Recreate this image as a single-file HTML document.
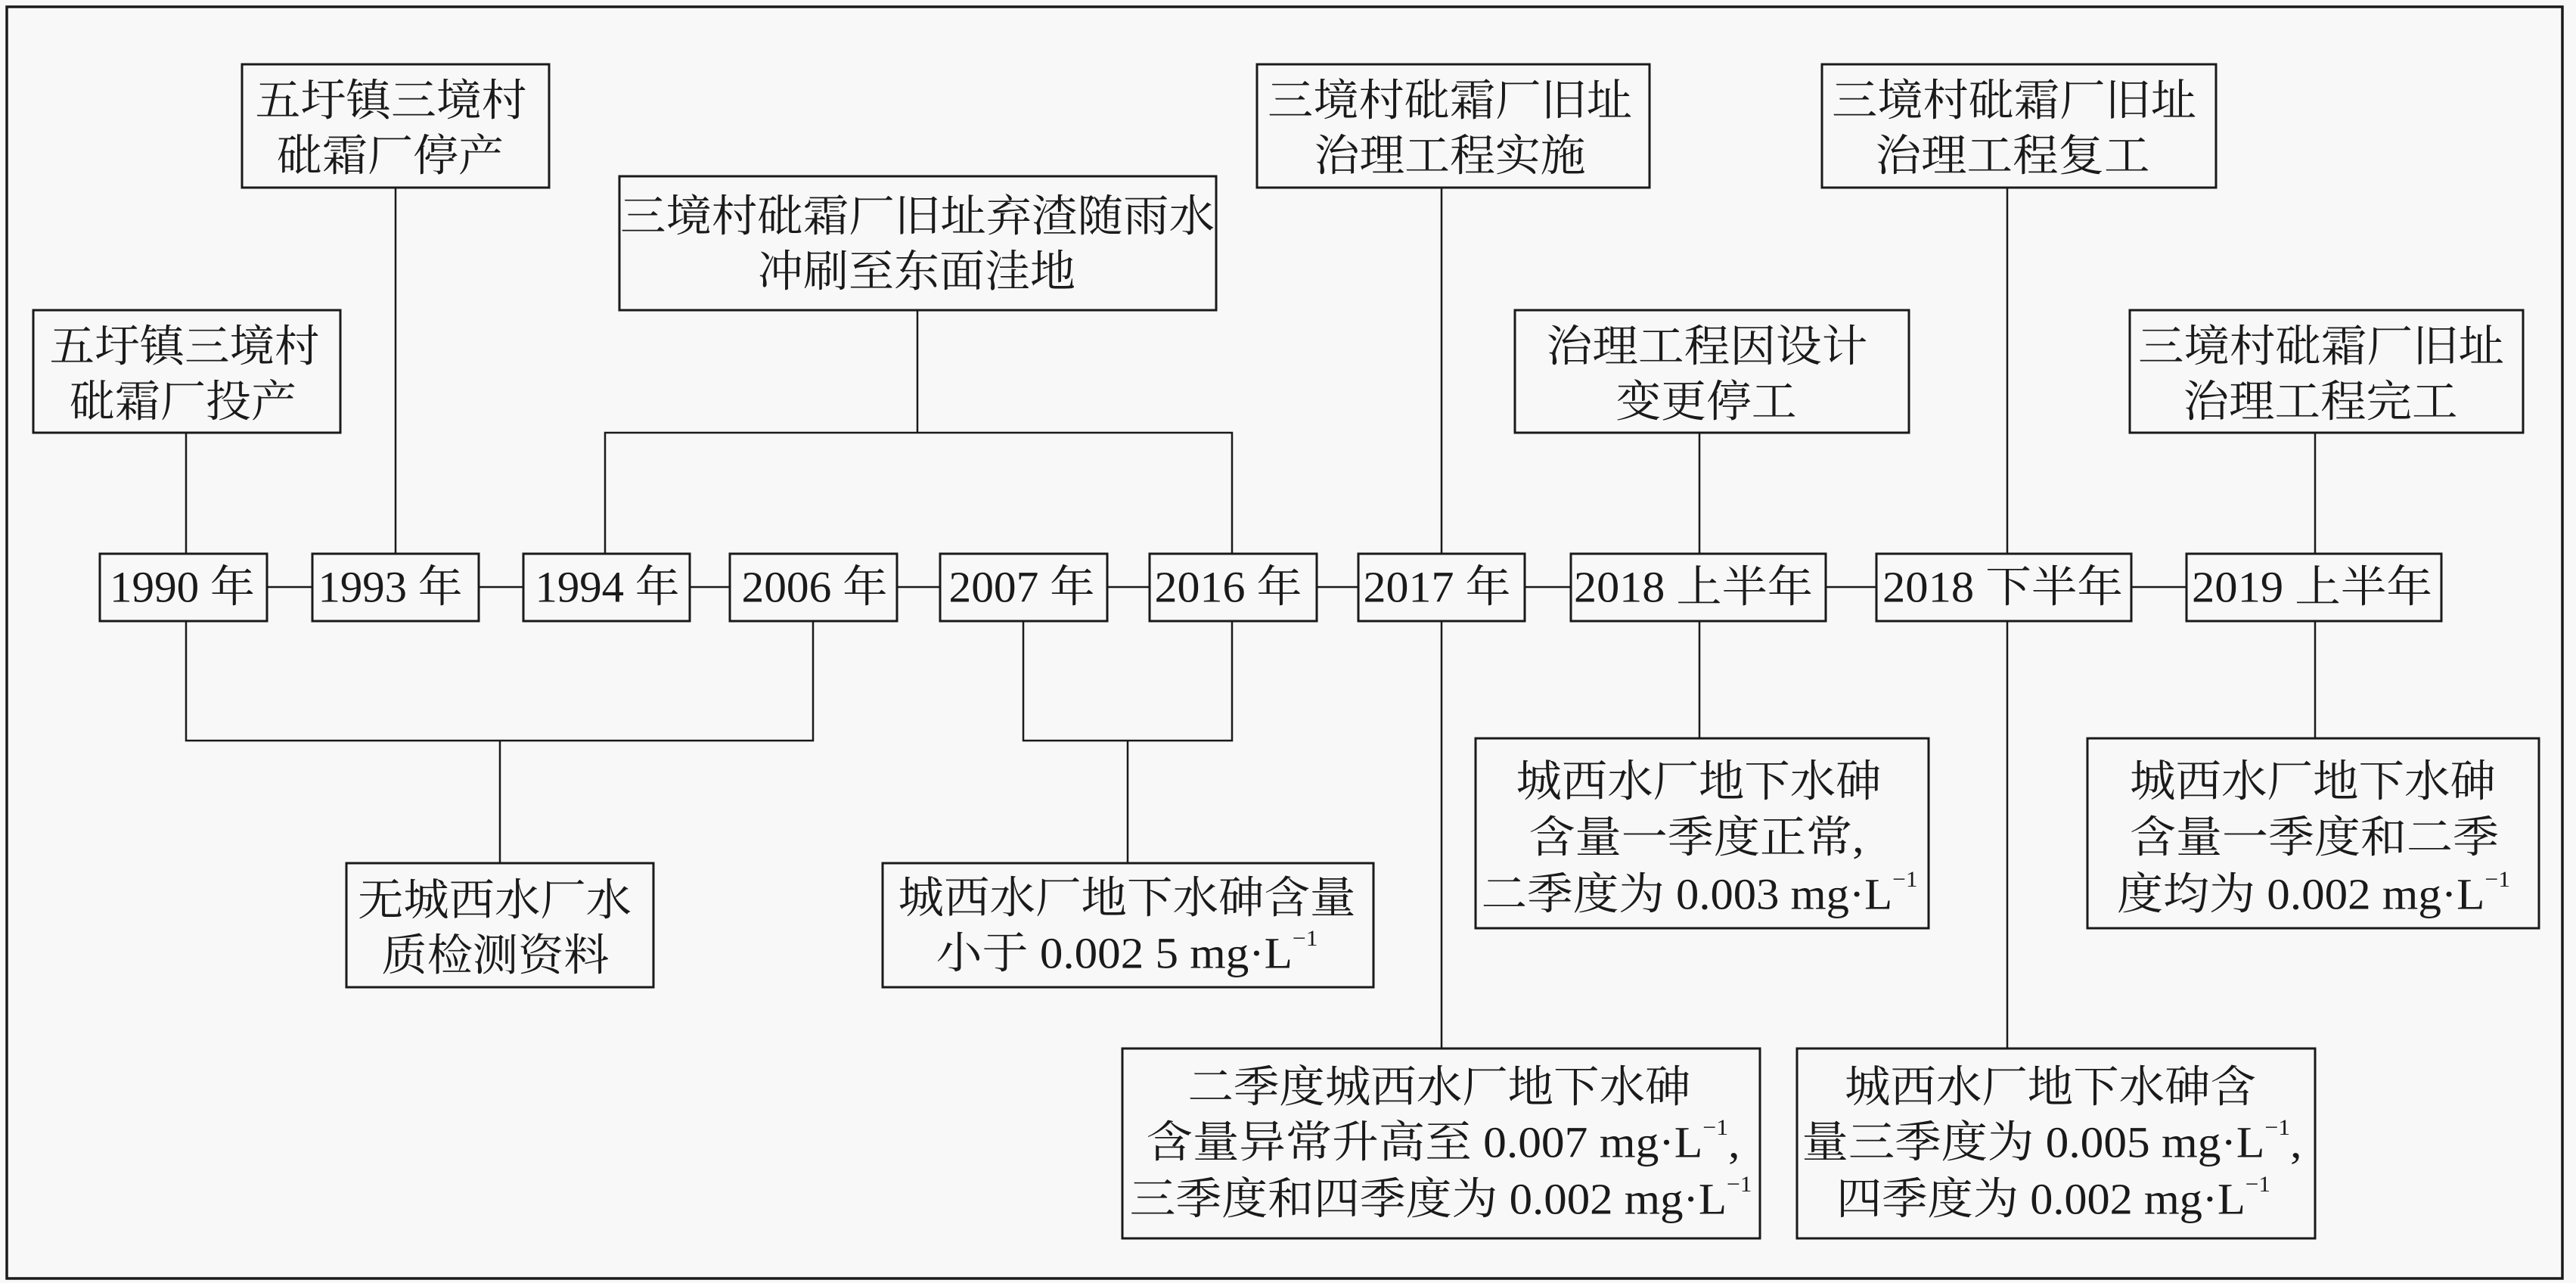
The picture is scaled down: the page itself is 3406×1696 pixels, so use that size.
<!DOCTYPE html>
<html><head><meta charset="utf-8"><style>
html,body{margin:0;padding:0;background:#f8f8f8;}
svg{display:block;}
text{font-family:"Liberation Serif","Noto Serif CJK SC",serif;font-size:58px;fill:#1a1a1a;dominant-baseline:central;text-anchor:middle;}
.b{fill:#f8f8f8;stroke:#1a1a1a;stroke-width:3;}
.l{stroke:#1a1a1a;stroke-width:2.5;fill:none;}
.s{font-size:30px;}
</style></head><body>
<svg width="3406" height="1696" viewBox="0 0 3406 1696" xmlns="http://www.w3.org/2000/svg">
<rect x="0" y="0" width="3406" height="1696" fill="#f8f8f8"/>
<rect x="9" y="9" width="3379" height="1681" fill="none" stroke="#1a1a1a" stroke-width="3.5"/>

<g class="l">
<path d="M246 572V732"/>
<path d="M523 248V732"/>
<path d="M1213 410V572M800 732V572H1629V732"/>
<path d="M1906 248V732M1906 821V1386"/>
<path d="M2247 572V732M2247 821V976"/>
<path d="M2654 248V732M2654 821V1386"/>
<path d="M3061 572V732M3061 821V976"/>
<path d="M246 821V979H1075V821M661 979V1141"/>
<path d="M1353 821V979H1629V821M1491 979V1141"/>
<path d="M353 776H413M633 776H692M912 776H965M1186 776H1243M1464 776H1520M1741 776H1796M2016 776H2077M2414 776H2481M2818 776H2891"/>
</g>

<rect class="b" x="44" y="410" width="406" height="162"/>
<text x="244" y="458" textLength="357" lengthAdjust="spacingAndGlyphs">五圩镇三境村</text>
<text x="242" y="531" textLength="300" lengthAdjust="spacingAndGlyphs">砒霜厂投产</text>

<rect class="b" x="320" y="85" width="406" height="163"/>
<text x="517" y="133" textLength="359" lengthAdjust="spacingAndGlyphs">五圩镇三境村</text>
<text x="516" y="206" textLength="300" lengthAdjust="spacingAndGlyphs">砒霜厂停产</text>

<rect class="b" x="819" y="233" width="789" height="177"/>
<text x="1213" y="286" textLength="786" lengthAdjust="spacingAndGlyphs">三境村砒霜厂旧址弃渣随雨水</text>
<text x="1212" y="359" textLength="420" lengthAdjust="spacingAndGlyphs">冲刷至东面洼地</text>

<rect class="b" x="1662" y="85" width="519" height="163"/>
<text x="1917" y="133" textLength="482" lengthAdjust="spacingAndGlyphs">三境村砒霜厂旧址</text>
<text x="1917" y="206" textLength="359" lengthAdjust="spacingAndGlyphs">治理工程实施</text>

<rect class="b" x="2003" y="410" width="521" height="162"/>
<text x="2257" y="458" textLength="425" lengthAdjust="spacingAndGlyphs">治理工程因设计</text>
<text x="2256" y="531" textLength="239" lengthAdjust="spacingAndGlyphs">变更停工</text>

<rect class="b" x="2409" y="85" width="521" height="163"/>
<text x="2663" y="133" textLength="482" lengthAdjust="spacingAndGlyphs">三境村砒霜厂旧址</text>
<text x="2661" y="206" textLength="363" lengthAdjust="spacingAndGlyphs">治理工程复工</text>

<rect class="b" x="2816" y="410" width="520" height="162"/>
<text x="3069" y="458" textLength="484" lengthAdjust="spacingAndGlyphs">三境村砒霜厂旧址</text>
<text x="3068" y="531" textLength="363" lengthAdjust="spacingAndGlyphs">治理工程完工</text>

<rect class="b" x="132" y="732" width="221" height="89"/>
<text x="241" y="776" textLength="192" lengthAdjust="spacingAndGlyphs">1990 年</text>
<rect class="b" x="413" y="732" width="220" height="89"/>
<text x="516" y="776" textLength="191" lengthAdjust="spacingAndGlyphs">1993 年</text>
<rect class="b" x="692" y="732" width="220" height="89"/>
<text x="803" y="776" textLength="191" lengthAdjust="spacingAndGlyphs">1994 年</text>
<rect class="b" x="965" y="732" width="221" height="89"/>
<text x="1077" y="776" textLength="193" lengthAdjust="spacingAndGlyphs">2006 年</text>
<rect class="b" x="1243" y="732" width="221" height="89"/>
<text x="1351" y="776" textLength="193" lengthAdjust="spacingAndGlyphs">2007 年</text>
<rect class="b" x="1520" y="732" width="221" height="89"/>
<text x="1624" y="776" textLength="195" lengthAdjust="spacingAndGlyphs">2016 年</text>
<rect class="b" x="1796" y="732" width="220" height="89"/>
<text x="1900" y="776" textLength="195" lengthAdjust="spacingAndGlyphs">2017 年</text>
<rect class="b" x="2077" y="732" width="337" height="89"/>
<text x="2239" y="776" textLength="316" lengthAdjust="spacingAndGlyphs">2018 上半年</text>
<rect class="b" x="2481" y="732" width="337" height="89"/>
<text x="2648" y="776" textLength="318" lengthAdjust="spacingAndGlyphs">2018 下半年</text>
<rect class="b" x="2891" y="732" width="337" height="89"/>
<text x="3057" y="776" textLength="318" lengthAdjust="spacingAndGlyphs">2019 上半年</text>

<rect class="b" x="458" y="1141" width="406" height="164"/>
<text x="654" y="1190" textLength="362" lengthAdjust="spacingAndGlyphs">无城西水厂水</text>
<text x="655" y="1263" textLength="301" lengthAdjust="spacingAndGlyphs">质检测资料</text>

<rect class="b" x="1167" y="1141" width="649" height="164"/>
<text x="1490" y="1187" textLength="605" lengthAdjust="spacingAndGlyphs">城西水厂地下水砷含量</text>
<text x="1490" y="1260" textLength="505" lengthAdjust="spacingAndGlyphs">小于 0.002 5 mg·L<tspan class="s" dy="-20">−1</tspan></text>

<rect class="b" x="1484" y="1386" width="843" height="251"/>
<text x="1903" y="1437" textLength="665" lengthAdjust="spacingAndGlyphs">二季度城西水厂地下水砷</text>
<text x="1908" y="1510" textLength="785" lengthAdjust="spacingAndGlyphs">含量异常升高至 0.007 mg·L<tspan class="s" dy="-20">−1</tspan><tspan dy="20">,</tspan></text>
<text x="1905" y="1585" textLength="823" lengthAdjust="spacingAndGlyphs">三季度和四季度为 0.002 mg·L<tspan class="s" dy="-20">−1</tspan></text>

<rect class="b" x="1951" y="976" width="599" height="251"/>
<text x="2246" y="1033" textLength="483" lengthAdjust="spacingAndGlyphs">城西水厂地下水砷</text>
<text x="2243" y="1107" textLength="443" lengthAdjust="spacingAndGlyphs">含量一季度正常,</text>
<text x="2247" y="1182" textLength="577" lengthAdjust="spacingAndGlyphs">二季度为 0.003 mg·L<tspan class="s" dy="-20">−1</tspan></text>

<rect class="b" x="2760" y="976" width="597" height="251"/>
<text x="3058" y="1033" textLength="484" lengthAdjust="spacingAndGlyphs">城西水厂地下水砷</text>
<text x="3060" y="1107" textLength="488" lengthAdjust="spacingAndGlyphs">含量一季度和二季</text>
<text x="3059" y="1182" textLength="520" lengthAdjust="spacingAndGlyphs">度均为 0.002 mg·L<tspan class="s" dy="-20">−1</tspan></text>

<rect class="b" x="2376" y="1386" width="685" height="251"/>
<text x="2711" y="1437" textLength="544" lengthAdjust="spacingAndGlyphs">城西水厂地下水砷含</text>
<text x="2713" y="1510" textLength="661" lengthAdjust="spacingAndGlyphs">量三季度为 0.005 mg·L<tspan class="s" dy="-20">−1</tspan><tspan dy="20">,</tspan></text>
<text x="2715" y="1585" textLength="574" lengthAdjust="spacingAndGlyphs">四季度为 0.002 mg·L<tspan class="s" dy="-20">−1</tspan></text>
</svg>
</body></html>
